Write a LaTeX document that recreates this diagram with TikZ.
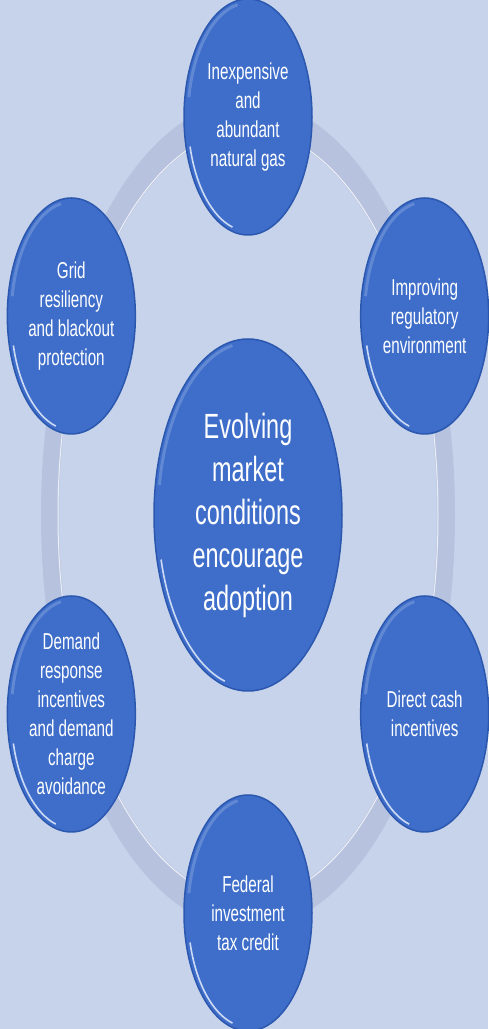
\documentclass[tikz,border=0pt]{standalone}
\usepackage{fontspec}
\setmainfont{Liberation Sans}
\newfontfamily\bubblefont{Liberation Sans}[FakeStretch=0.66]
\newfontfamily\hubfont{Liberation Sans}[FakeStretch=0.67]
\usetikzlibrary{shapes.geometric,calc}
\definecolor{paper}{HTML}{C7D3EB}
\definecolor{ringc}{HTML}{B7C2DF}
\definecolor{bubblec}{HTML}{3E6ECA}
\definecolor{rimc}{HTML}{2B57AE}
\definecolor{glintc}{HTML}{E6EDFB}
\tikzset{
  % light streak on the lower left rim of a disc
  glint/.style 2 args={path picture={
    \draw[glintc,line width=1.6pt,opacity=.85]
      ([shift={(195:#1 and #2)}]path picture bounding box.center)
      arc[start angle=195,end angle=255,x radius=#1,y radius=#2];
    \draw[white,line width=3pt,opacity=.18]
      ([shift={(100:#1 and #2)}]path picture bounding box.center)
      arc[start angle=100,end angle=170,x radius=#1,y radius=#2];}},
  bubble/.style={ellipse,fill=bubblec,draw=rimc,line width=1.5pt,
    inner xsep=0pt,inner ysep=-25pt,
    minimum width=128pt,minimum height=236pt,text=white,align=center,
    font=\bubblefont\fontsize{23}{29}\selectfont,glint={60pt}{114pt}},
  hub/.style={bubble,minimum width=188pt,minimum height=352pt,
    font=\hubfont\fontsize{35}{43}\selectfont,glint={90pt}{172pt}},
  ring/.style={fill=ringc,even odd rule},
}
\begin{document}
\begin{tikzpicture}[x=1pt,y=1pt]
  \useasboundingbox[fill=paper] (0,0) rectangle (488,1029);
  \coordinate (mid) at (248,514);
  % the band linking the six discs
  \fill[ring] (mid) ellipse[x radius=207,y radius=414]
              (mid) ellipse[x radius=189,y radius=384];
  \draw[white,opacity=.75,line width=1pt] (mid) ellipse[x radius=190,y radius=385];

  \node[hub] (hub) at (mid) {Evolving\\market\\conditions\\encourage\\adoption};

  \node[bubble] (gas) at ($(mid)+(90:204 and 398)$) {Inexpensive\\and\\abundant\\natural gas};
  \node[bubble] (reg) at ($(mid)+(30:204 and 398)$) {Improving\\regulatory\\environment};
  \node[bubble] (cash) at ($(mid)+(-30:204 and 398)$) {Direct cash\\incentives};
  \node[bubble] (itc) at ($(mid)+(-90:204 and 398)$) {Federal\\investment\\tax credit};
  \node[bubble] (dr) at ($(mid)+(-150:204 and 398)$) {Demand\\response\\incentives\\and demand\\charge\\avoidance};
  \node[bubble] (grid) at ($(mid)+(150:204 and 398)$) {Grid\\resiliency\\and blackout\\protection};
\end{tikzpicture}
\end{document}
